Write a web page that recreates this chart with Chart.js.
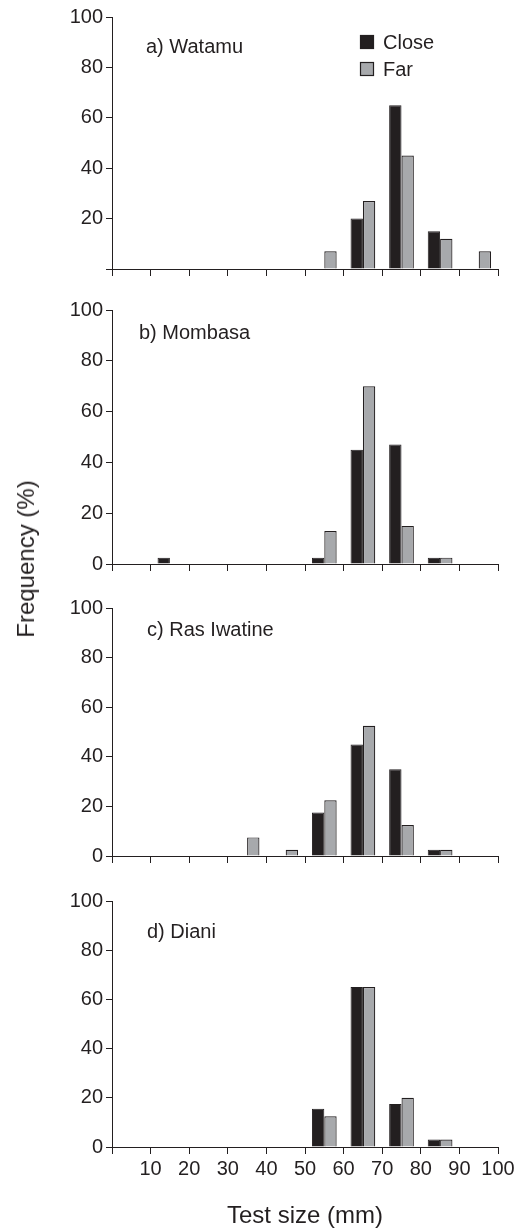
<!DOCTYPE html>
<html>
<head>
<meta charset="utf-8">
<script src="https://cdn.jsdelivr.net/npm/chart.js@4"></script>
<style>
  body { margin: 0; background: #fff; }
  #wrap { position: relative; width: 527px; height: 1232px; overflow: hidden; }
  canvas { position: absolute; left: 0; }
  #ylab {
    position: absolute; left: 26px; top: 559px;
    transform: translate(-50%, -50%) rotate(-90deg);
    font: 24px 'Liberation Sans', Arial, sans-serif; color: #231f20; white-space: nowrap;
  }
</style>
</head>
<body>
<div id="wrap">
  <canvas id="c0" width="527" height="287" style="top:2px"></canvas>
  <canvas id="c1" width="527" height="289" style="top:295px"></canvas>
  <canvas id="c2" width="527" height="283" style="top:593px"></canvas>
  <canvas id="c3" width="527" height="346" style="top:886px"></canvas>
  <div id="ylab">Frequency (%)</div>
</div>
<script>
// test size classes, bars sit at the middle of each 10 mm class
const sizeBins = [5, 15, 25, 35, 45, 55, 65, 75, 85, 95];
const sizeTicks = [0, 10, 20, 30, 40, 50, 60, 70, 80, 90, 100];
const freqTicks = [0, 20, 40, 60, 80, 100];

// frequency (%) per class
const watamuClose  = [0, 0, 0, 0, 0, 0, 20, 65, 15, 0];
const watamuFar    = [0, 0, 0, 0, 0, 7, 27, 45, 12, 7];
const mombasaClose = [0, 2.5, 0, 0, 0, 2.5, 45, 47, 2.5, 0];
const mombasaFar   = [0, 0, 0, 0, 0, 13, 70, 15, 2.5, 0];
const rasClose     = [0, 0, 0, 0, 0, 17.5, 45, 35, 2.5, 0];
const rasFar       = [0, 0, 0, 7.5, 2.5, 22.5, 52.5, 12.5, 2.5, 0];
const dianiClose   = [0, 0, 0, 0, 0, 15.5, 65, 17.5, 3, 0];
const dianiFar     = [0, 0, 0, 0, 0, 12.5, 65, 20, 3, 0];

const ink = '#231f20';
const grey = '#a7a9ac';
const font = "'Liberation Sans', Arial, sans-serif";

// panel label + (optional) legend drawn inside the plot area
const panelText = {
    id: 'panelText',
    afterDraw(chart, args, opts) {
        const ctx = chart.ctx;
        ctx.save();
        ctx.font = '20px ' + font;
        ctx.fillStyle = ink;
        ctx.textBaseline = 'middle';
        ctx.fillText(opts.text, opts.x, opts.y);
        if (opts.legend) {
            const lg = opts.legend;
            chart.data.datasets.forEach((ds, i) => {
                const y = lg.y + i * lg.gap;
                ctx.fillStyle = ds.backgroundColor;
                ctx.fillRect(lg.x, y - 7, 14, 14);
                ctx.strokeStyle = ds.borderColor;
                ctx.lineWidth = 1.2;
                ctx.strokeRect(lg.x + 0.5, y - 6.5, 13, 13);
                ctx.fillStyle = ink;
                ctx.fillText(ds.label, lg.x + 23, y + 1);
            });
        }
        ctx.restore();
    }
};

const panels = [
    { id: 'c0', text: 'a) Watamu', x: 146, y: 45, close: watamuClose, far: watamuFar, zero: false,
      legend: { x: 360, y: 40, gap: 27 }, bottom: 20 },
    { id: 'c1', text: 'b) Mombasa', x: 139, y: 38, close: mombasaClose, far: mombasaFar, zero: true, bottom: 20 },
    { id: 'c2', text: 'c) Ras Iwatine', x: 147, y: 37, close: rasClose, far: rasFar, zero: true, bottom: 20 },
    { id: 'c3', text: 'd) Diani', x: 147, y: 46, close: dianiClose, far: dianiFar, zero: true, bottom: 85, xLabels: true }
];

panels.forEach(p => {
    new Chart(document.getElementById(p.id), {
        type: 'bar',
        data: {
            datasets: [{
                label: 'Close',
                data: sizeBins.map((x, i) => ({ x: x, y: p.close[i] })),
                backgroundColor: ink,
                borderColor: ink,
                borderWidth: 1
            }, {
                label: 'Far',
                data: sizeBins.map((x, i) => ({ x: x, y: p.far[i] })),
                backgroundColor: grey,
                borderColor: ink,
                borderWidth: 1.2
            }]
        },
        options: {
            responsive: false,
            animation: false,
            devicePixelRatio: 1,
            categoryPercentage: 0.64,
            barPercentage: 1.0,
            layout: { padding: { top: 15, right: 29, left: 0, bottom: 0 } },
            plugins: {
                legend: { display: false },
                tooltip: { enabled: false },
                panelText: { text: p.text, x: p.x, y: p.y, legend: p.legend }
            },
            scales: {
                x: {
                    type: 'linear',
                    min: 0,
                    max: 100,
                    offset: false,
                    afterBuildTicks: s => { s.ticks = sizeTicks.map(v => ({ value: v })); },
                    afterFit: s => { s.height = p.bottom; },
                    grid: { offset: false, drawOnChartArea: false, tickLength: 7, color: ink, lineWidth: 1 },
                    border: { display: true, color: ink, width: 1 },
                    ticks: {
                        display: !!p.xLabels,
                        autoSkip: false,
                        maxRotation: 0,
                        padding: 3,
                        color: ink,
                        font: { family: font, size: 20 },
                        callback: v => v === 0 ? '' : v
                    },
                    title: {
                        display: !!p.xLabels,
                        text: 'Test size (mm)',
                        color: ink,
                        font: { family: font, size: 24 },
                        padding: { top: 0, bottom: 1 }
                    }
                },
                y: {
                    min: 0,
                    max: 100,
                    afterBuildTicks: s => { s.ticks = freqTicks.map(v => ({ value: v })); },
                    afterFit: s => { s.width = 112; },
                    grid: { drawOnChartArea: false, tickLength: 6, color: ink, lineWidth: 1 },
                    border: { display: true, color: ink, width: 1 },
                    ticks: {
                        padding: 3,
                        color: ink,
                        font: { family: font, size: 20 },
                        callback: v => (v === 0 && !p.zero) ? '' : v
                    }
                }
            }
        },
        plugins: [panelText]
    });
});
</script>
</body>
</html>
